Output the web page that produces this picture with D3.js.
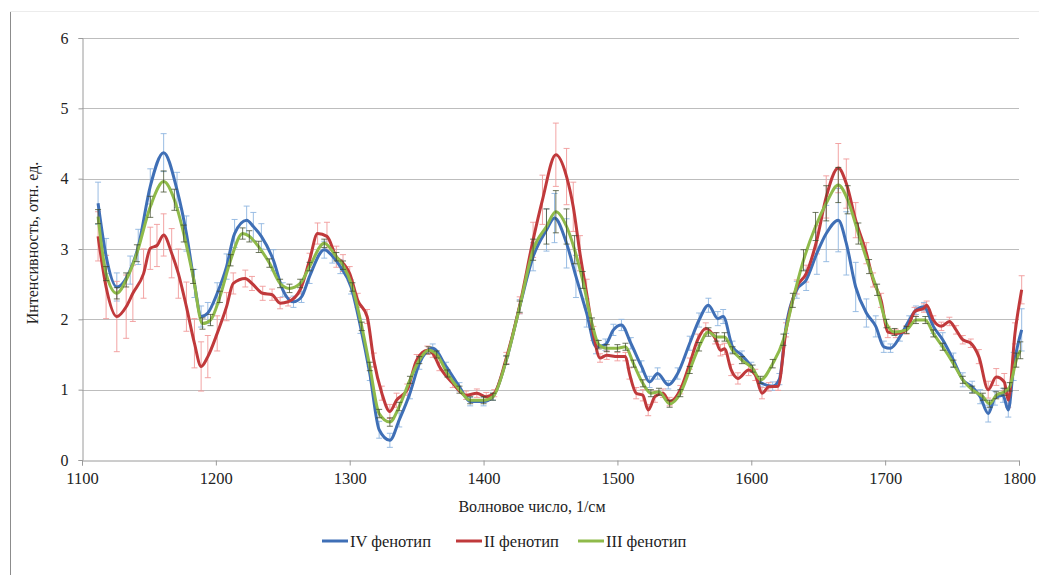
<!DOCTYPE html>
<html lang="ru">
<head>
<meta charset="utf-8">
<title>Спектры</title>
<script src="https://cdn.jsdelivr.net/npm/d3@7"></script>
<style>
  html, body { margin:0; padding:0; background:#fff; overflow:hidden }
  svg { display:block }
  text { font-family: "Liberation Serif", "Times New Roman", serif; fill:#222 }
</style>
</head>
<body>
<svg id="chart" width="1039" height="575"></svg>
<script>
// wavenumbers, values and error sizes
var wnIV  = [1112,1118,1126,1136,1142,1151,1161,1171,1178,1184,1189,1194,1201,1208,1214,1223,1228,1234,1243,1250,1258,1264,1270,1281,1287,1293,1301,1308,1315,1322,1330,1337,1345,1352,1362,1372,1382,1390,1400,1407,1417,1427,1437,1447,1453,1462,1469,1477,1484,1491,1497,1503,1510,1518,1524,1530,1538,1545,1554,1561,1568,1575,1579,1586,1593,1600,1607,1616,1621,1626,1634,1641,1649,1656,1665,1671,1678,1686,1693,1699,1704,1711,1718,1723,1729,1736,1743,1751,1758,1765,1771,1777,1782,1788,1792,1796,1802];
var valIV = [3.65,2.9,2.46,2.7,3.03,3.89,4.37,3.84,3.22,2.51,2.04,2.09,2.37,2.75,3.22,3.41,3.32,3.18,2.84,2.42,2.25,2.32,2.61,2.99,2.9,2.75,2.46,1.9,1.23,0.43,0.28,0.57,0.95,1.37,1.59,1.33,1.04,0.83,0.83,0.9,1.42,2.18,2.89,3.27,3.44,3.08,2.61,2.09,1.61,1.64,1.85,1.92,1.66,1.33,1.11,1.23,1.07,1.23,1.66,1.99,2.2,2.01,2.04,1.61,1.49,1.33,1.1,1.05,1.15,1.9,2.42,2.56,2.94,3.22,3.41,3.08,2.46,2.09,1.9,1.61,1.59,1.75,1.99,2.13,2.18,1.9,1.71,1.42,1.14,1.04,0.9,0.66,0.88,0.92,0.71,1.33,1.85];
var errIV = [0.3,0.25,0.2,0.2,0.25,0.25,0.27,0.25,0.25,0.2,0.15,0.15,0.15,0.18,0.2,0.2,0.2,0.18,0.15,0.1,0.08,0.08,0.1,0.12,0.1,0.1,0.1,0.1,0.1,0.12,0.1,0.1,0.08,0.08,0.06,0.06,0.06,0.06,0.06,0.05,0.06,0.1,0.2,0.3,0.35,0.35,0.3,0.2,0.1,0.08,0.08,0.08,0.08,0.08,0.08,0.08,0.06,0.08,0.1,0.1,0.1,0.1,0.1,0.08,0.06,0.06,0.06,0.06,0.08,0.1,0.12,0.15,0.3,0.4,0.45,0.45,0.35,0.2,0.15,0.08,0.06,0.06,0.06,0.06,0.06,0.1,0.1,0.1,0.1,0.08,0.1,0.12,0.1,0.1,0.1,0.2,0.3];

var wnII  = [1112,1118,1126,1133,1138,1146,1151,1156,1161,1167,1172,1178,1184,1189,1194,1201,1208,1213,1222,1227,1235,1242,1248,1254,1263,1270,1276,1283,1290,1295,1300,1306,1313,1318,1324,1330,1335,1343,1350,1358,1362,1367,1377,1387,1395,1402,1408,1417,1427,1437,1444,1454,1462,1467,1472,1477,1482,1487,1492,1500,1506,1509,1514,1519,1523,1528,1534,1539,1547,1554,1560,1566,1573,1577,1580,1585,1590,1598,1603,1608,1613,1620,1626,1634,1641,1649,1656,1665,1671,1678,1686,1691,1697,1702,1708,1716,1722,1729,1731,1736,1742,1748,1753,1758,1764,1770,1777,1783,1789,1792,1797,1802];
var valII = [3.18,2.46,2.04,2.18,2.37,2.65,3.01,3.05,3.2,2.94,2.65,2.18,1.66,1.33,1.47,1.8,2.18,2.51,2.58,2.51,2.37,2.35,2.23,2.25,2.42,2.84,3.22,3.18,2.89,2.8,2.65,2.27,2.04,1.42,0.95,0.69,0.85,1.0,1.42,1.56,1.52,1.33,1.09,0.92,0.95,0.9,0.95,1.45,2.2,3.13,3.7,4.34,4.03,3.6,2.94,2.37,1.8,1.45,1.49,1.47,1.47,1.23,0.95,0.92,0.71,0.9,0.95,0.83,1.0,1.37,1.71,1.87,1.73,1.56,1.58,1.28,1.16,1.28,1.21,0.95,1.04,1.05,1.85,2.46,2.65,3.13,3.74,4.15,3.93,3.41,2.94,2.56,2.27,1.82,1.8,1.85,2.11,2.16,2.2,1.99,1.9,1.97,1.85,1.71,1.66,1.47,1.0,1.18,1.11,0.85,1.8,2.42];
var errII = [0.35,0.45,0.5,0.45,0.4,0.35,0.3,0.3,0.3,0.35,0.35,0.35,0.35,0.35,0.3,0.25,0.2,0.15,0.12,0.1,0.1,0.08,0.08,0.06,0.06,0.1,0.15,0.2,0.15,0.12,0.1,0.1,0.1,0.1,0.1,0.1,0.1,0.08,0.08,0.06,0.06,0.06,0.06,0.06,0.06,0.06,0.05,0.08,0.12,0.25,0.35,0.45,0.4,0.35,0.25,0.2,0.1,0.06,0.06,0.06,0.06,0.08,0.08,0.08,0.08,0.08,0.06,0.06,0.06,0.08,0.08,0.08,0.08,0.08,0.08,0.08,0.08,0.08,0.08,0.08,0.06,0.06,0.1,0.1,0.12,0.2,0.3,0.35,0.35,0.25,0.15,0.1,0.1,0.08,0.06,0.06,0.06,0.06,0.06,0.06,0.06,0.06,0.06,0.06,0.06,0.1,0.12,0.12,0.12,0.1,0.15,0.2];

var wnIII  = [1112,1118,1126,1133,1141,1151,1161,1169,1176,1183,1190,1196,1203,1211,1220,1225,1232,1240,1248,1255,1263,1270,1281,1290,1295,1302,1309,1315,1322,1330,1337,1345,1352,1359,1365,1373,1382,1390,1400,1407,1417,1427,1437,1447,1454,1462,1468,1474,1481,1486,1492,1500,1506,1512,1519,1525,1531,1539,1547,1554,1561,1568,1574,1580,1586,1593,1601,1607,1616,1624,1631,1639,1648,1656,1665,1672,1680,1688,1694,1701,1707,1716,1723,1730,1736,1743,1751,1758,1765,1773,1778,1783,1789,1793,1798,1801];
var valIII = [3.46,2.65,2.37,2.56,2.94,3.6,3.96,3.7,3.22,2.61,1.94,1.99,2.32,2.84,3.22,3.18,3.03,2.8,2.51,2.44,2.51,2.75,3.08,2.89,2.77,2.46,1.9,1.33,0.66,0.54,0.76,1.14,1.42,1.56,1.5,1.23,1.0,0.85,0.85,0.9,1.42,2.18,2.99,3.32,3.53,3.32,2.99,2.56,1.94,1.64,1.59,1.59,1.61,1.37,1.09,0.95,0.97,0.8,0.95,1.28,1.61,1.82,1.75,1.75,1.56,1.42,1.3,1.14,1.37,1.71,2.27,2.84,3.32,3.65,3.91,3.7,3.22,2.75,2.42,1.94,1.82,1.85,1.99,1.99,1.8,1.61,1.37,1.14,1.0,0.9,0.8,0.92,0.97,1.04,1.42,1.56];
var errIII = [0.1,0.1,0.08,0.1,0.12,0.15,0.15,0.15,0.12,0.1,0.08,0.08,0.08,0.08,0.08,0.08,0.08,0.06,0.06,0.06,0.06,0.06,0.06,0.06,0.06,0.06,0.06,0.06,0.06,0.06,0.06,0.05,0.05,0.05,0.05,0.05,0.05,0.05,0.05,0.05,0.06,0.08,0.15,0.25,0.3,0.25,0.2,0.12,0.08,0.06,0.05,0.05,0.05,0.05,0.05,0.05,0.05,0.05,0.05,0.05,0.06,0.06,0.06,0.06,0.05,0.05,0.05,0.05,0.06,0.08,0.1,0.15,0.2,0.25,0.25,0.2,0.15,0.1,0.08,0.06,0.05,0.05,0.05,0.05,0.05,0.05,0.05,0.05,0.05,0.05,0.05,0.05,0.05,0.06,0.1,0.12];

var seriesNames = ["IV фенотип", "II фенотип", "III фенотип"];
var yTicks = [0, 1, 2, 3, 4, 5, 6];
var xTicks = [1100, 1200, 1300, 1400, 1500, 1600, 1700, 1800];

function pack(wn, val, err) {
  return wn.map(function(w, i) { return {x: w, y: val[i], e: err[i]}; });
}

var series = [
  {name: seriesNames[0], data: pack(wnIV, valIV, errIV), color: "#3f6fb6", err: "#8fb6e0", errOp: 0.9},
  {name: seriesNames[1], data: pack(wnII, valII, errII), color: "#c0393b", err: "#f19a9a", errOp: 0.9},
  {name: seriesNames[2], data: pack(wnIII, valIII, errIII), color: "#8fba4a", err: "#3d4a2a", errOp: 0.75}
];

var svg = d3.select("#chart");
// plot box (window.top is reserved, hence the names)
var plotL = 82, plotR = 1019, plotT = 38, plotB = 460;

var x = d3.scaleLinear().domain([1100, 1800]).range([plotL, plotR]);
var y = d3.scaleLinear().domain([0, 6]).range([plotB, plotT]);

// outer frame
svg.append("line").attr("x1", 10.5).attr("x2", 10.5).attr("y1", 11).attr("y2", 575)
   .attr("stroke", "#8c8c8c").attr("stroke-width", 1);
svg.append("line").attr("x1", 10).attr("x2", 1039).attr("y1", 11.5).attr("y2", 11.5)
   .attr("stroke", "#ececec").attr("stroke-width", 1);

// horizontal grid
svg.append("g").selectAll("line").data(yTicks.slice(1)).enter().append("line")
   .attr("x1", plotL).attr("x2", plotR)
   .attr("y1", function(d) { return Math.round(y(d)) + 0.5; })
   .attr("y2", function(d) { return Math.round(y(d)) + 0.5; })
   .attr("stroke", "#bdbdbd").attr("stroke-width", 1);

// y axis
var yAxis = svg.append("g").attr("transform", "translate(" + (plotL + 0.5) + ",0)")
   .call(d3.axisLeft(y).tickValues(yTicks).tickSize(4).tickPadding(10).tickFormat(d3.format("d")));
yAxis.select(".domain").attr("stroke", "#9a9a9a");
yAxis.selectAll(".tick line").attr("stroke", "#9a9a9a");
yAxis.selectAll("text").attr("font-size", 16).attr("fill", "#222")
   .attr("font-family", "Liberation Serif, serif");

// x axis
var xAxis = svg.append("g").attr("transform", "translate(0," + (plotB + 0.5) + ")")
   .call(d3.axisBottom(x).tickValues(xTicks).tickSize(5).tickPadding(7).tickFormat(d3.format("d")));
xAxis.select(".domain").attr("stroke", "#9a9a9a");
xAxis.selectAll(".tick line").attr("stroke", "#9a9a9a");
xAxis.selectAll("text").attr("font-size", 16.5).attr("fill", "#222")
   .attr("font-family", "Liberation Serif, serif");

// error bars
function drawErr(s, g) {
  var bars = g.selectAll("g").data(s.data).enter().append("g")
     .attr("stroke", s.err).attr("stroke-opacity", s.errOp).attr("stroke-width", 1);
  bars.append("line")
     .attr("x1", function(d) { return x(d.x); }).attr("x2", function(d) { return x(d.x); })
     .attr("y1", function(d) { return y(d.y - d.e); }).attr("y2", function(d) { return y(d.y + d.e); });
  bars.append("line")
     .attr("x1", function(d) { return x(d.x) - 3; }).attr("x2", function(d) { return x(d.x) + 3; })
     .attr("y1", function(d) { return y(d.y + d.e); }).attr("y2", function(d) { return y(d.y + d.e); });
  bars.append("line")
     .attr("x1", function(d) { return x(d.x) - 3; }).attr("x2", function(d) { return x(d.x) + 3; })
     .attr("y1", function(d) { return y(d.y - d.e); }).attr("y2", function(d) { return y(d.y - d.e); });
}

var line = d3.line().x(function(d) { return x(d.x); }).y(function(d) { return y(d.y); })
   .curve(d3.curveMonotoneX);

drawErr(series[0], svg.append("g"));
drawErr(series[1], svg.append("g"));
series.forEach(function(s) {
  svg.append("path").datum(s.data).attr("d", line)
     .attr("fill", "none").attr("stroke", s.color).attr("stroke-width", 3)
     .attr("stroke-linejoin", "round");
});
drawErr(series[2], svg.append("g"));

// axis titles
svg.append("text").attr("x", 532).attr("y", 512).attr("text-anchor", "middle")
   .attr("font-size", 16).text("Волновое число, 1/см");
svg.append("text").attr("transform", "translate(38,243) rotate(-90)")
   .attr("text-anchor", "middle").attr("font-size", 16).text("Интенсивность, отн. ед.");

// legend
var legendX = [322, 456, 578];
var leg = svg.append("g").selectAll("g").data(series).enter().append("g")
   .attr("transform", function(d, i) { return "translate(" + legendX[i] + ",541)"; });
leg.append("line").attr("x1", 0).attr("x2", 26).attr("y1", 0).attr("y2", 0)
   .attr("stroke", function(d) { return d.color; }).attr("stroke-width", 3);
leg.append("text").attr("x", 28).attr("y", 6).attr("font-size", 16.5)
   .text(function(d) { return d.name; });
</script>
</body>
</html>
